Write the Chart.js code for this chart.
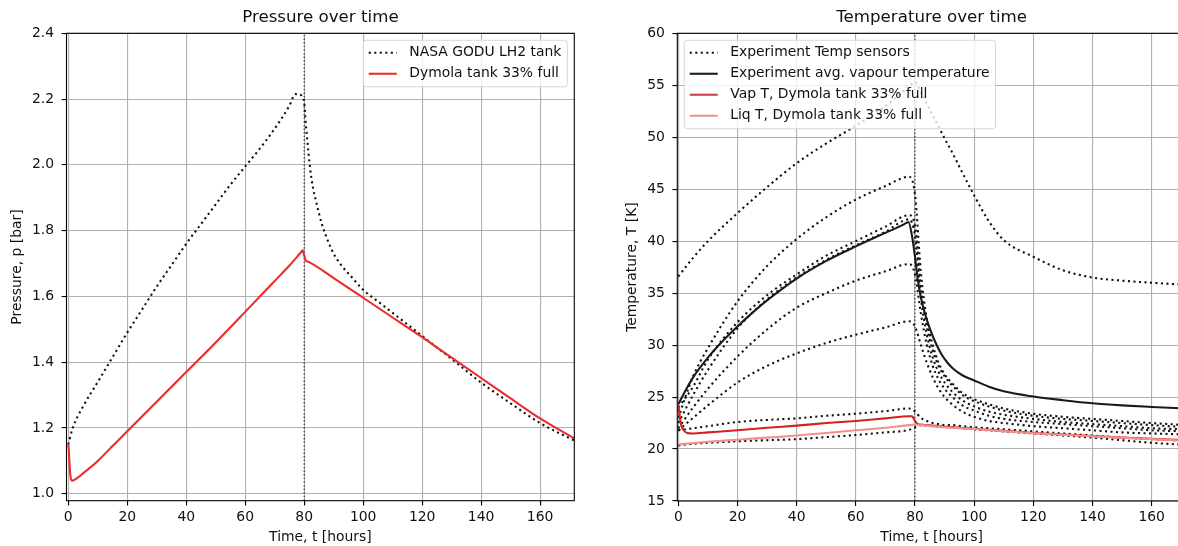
<!DOCTYPE html>
<html><head><meta charset="utf-8">
<script src="https://cdn.jsdelivr.net/npm/chart.js@4.4.0/dist/chart.umd.min.js"></script>
<style>
html,body{margin:0;padding:0;background:#fff;overflow:hidden;width:1178px;height:546px;position:relative;}
#c1{position:absolute;left:0;top:0;}
#c2{position:absolute;left:590px;top:0;}
</style></head><body>
<canvas id="c1" width="590" height="546" style="width:590px;height:546px"></canvas>
<canvas id="c2" width="620" height="546" style="width:620px;height:546px"></canvas>
<script>
// ---------- tick labels ----------
const timeTicks = [0, 20, 40, 60, 80, 100, 120, 140, 160];
const pressureTicks = [1.0, 1.2, 1.4, 1.6, 1.8, 2.0, 2.2, 2.4];
const tempTicks = [15, 20, 25, 30, 35, 40, 45, 50, 55, 60];
const markerTime = 80;

// ---------- pressure chart ----------
const nasaTime = [0, 1.5, 5, 10, 15, 20, 25, 30, 35, 40, 45, 50, 55, 60, 65, 70, 75, 77, 78, 79.5, 80, 80.5, 81, 82, 83, 84, 86, 88, 90, 93, 96, 100, 105, 110, 120, 130, 140, 150, 160, 171.6];
const nasaPressure = [1.15, 1.20, 1.265, 1.34, 1.415, 1.49, 1.56, 1.63, 1.695, 1.76, 1.82, 1.88, 1.94, 1.995, 2.05, 2.11, 2.18, 2.215, 2.215, 2.205, 2.19, 2.13, 2.08, 1.99, 1.93, 1.89, 1.82, 1.77, 1.73, 1.69, 1.66, 1.62, 1.585, 1.55, 1.48, 1.41, 1.338, 1.275, 1.215, 1.162];
const dymTime = [0, 0.2, 0.5, 0.9, 1.3, 3, 5, 10, 15, 20, 30, 40, 50, 60, 70, 75, 79, 79.5, 80, 80.5, 81.5, 90, 100, 110, 120, 130, 140, 150, 160, 171.6];
const dymPressure = [1.15, 1.13, 1.08, 1.045, 1.04, 1.048, 1.062, 1.10, 1.145, 1.19, 1.28, 1.37, 1.46, 1.553, 1.647, 1.694, 1.735, 1.74, 1.725, 1.71, 1.705, 1.656, 1.596, 1.536, 1.476, 1.414, 1.352, 1.29, 1.229, 1.168];

// ---------- temperature chart ----------
const sensorTime = [0, 5, 10, 20, 30, 40, 50, 60, 70, 78, 80, 82, 84, 86, 88, 90, 93, 96, 100, 105, 110, 120, 130, 140, 150, 160, 171.6];
const sensorA = [36.6, 38.4, 40.0, 42.7, 45.2, 47.5, 49.4, 51.1, 53.0, 54.9, 55.3, 54.3, 53.2, 52.1, 51.0, 49.9, 48.3, 46.6, 44.4, 41.9, 40.1, 38.5, 37.2, 36.5, 36.2, 36.0, 35.8];
const sensorB = [23.0, 27.0, 29.7, 34.2, 37.6, 40.2, 42.3, 44.0, 45.3, 46.2, 44.5, 37.0, 32.5, 30.0, 28.3, 27.2, 26.2, 25.4, 24.8, 24.3, 23.9, 23.4, 23.1, 22.9, 22.7, 22.5, 22.3];
const sensorC = [24.0, 26.0, 28.6, 32.2, 34.8, 36.8, 38.6, 40.0, 41.4, 42.5, 41.5, 35.5, 31.8, 29.5, 28.0, 27.0, 26.0, 25.2, 24.6, 24.1, 23.7, 23.2, 22.9, 22.7, 22.5, 22.3, 22.1];
const sensorD = [22.5, 25.2, 27.6, 31.6, 34.4, 36.5, 38.2, 39.6, 40.9, 42.1, 40.5, 34.5, 31.0, 28.8, 27.4, 26.4, 25.4, 24.7, 24.1, 23.6, 23.3, 22.9, 22.6, 22.4, 22.2, 22.0, 21.9];
const sensorE = [22.0, 24.0, 25.8, 28.9, 31.5, 33.6, 35.0, 36.2, 37.1, 37.8, 36.8, 33.0, 30.0, 28.0, 26.7, 25.8, 24.9, 24.2, 23.7, 23.2, 22.9, 22.6, 22.4, 22.2, 22.0, 21.8, 21.7];
const sensorF = [21.8, 23.0, 24.2, 26.4, 28.0, 29.2, 30.2, 31.0, 31.7, 32.3, 31.8, 30.0, 28.3, 26.9, 25.8, 25.0, 24.2, 23.6, 23.1, 22.7, 22.5, 22.2, 22.0, 21.8, 21.6, 21.5, 21.4];
const sensorG = [21.8, 22.0, 22.2, 22.6, 22.8, 22.95, 23.2, 23.4, 23.65, 23.9, 23.6, 23.0, 22.7, 22.5, 22.4, 22.3, 22.3, 22.2, 22.1, 22.0, 21.9, 21.7, 21.5, 21.3, 21.1, 20.95, 20.8];
const sensorH = [20.35, 20.5, 20.6, 20.75, 20.85, 20.95, 21.15, 21.35, 21.6, 21.85, 22.1, 22.3, 22.3, 22.2, 22.2, 22.1, 22.1, 22.0, 21.9, 21.8, 21.7, 21.5, 21.3, 21.1, 20.85, 20.6, 20.4];

const avgTime = [0, 2, 5, 10, 15, 20, 25, 30, 40, 50, 60, 70, 75, 77.3, 77.8, 79, 80, 81, 82, 83, 85, 87, 89, 91, 93, 96, 100, 105, 110, 120, 130, 140, 150, 160, 171.6];
const avgVapour = [24.3, 25.4, 26.9, 28.8, 30.4, 31.8, 33.1, 34.3, 36.4, 38.1, 39.5, 40.8, 41.45, 41.78, 41.85, 40.5, 38.5, 36.2, 34.6, 33.4, 31.6, 30.2, 29.1, 28.3, 27.7, 27.1, 26.6, 26.0, 25.55, 25.05, 24.7, 24.4, 24.2, 24.05, 23.9];

const vapTime = [0, 0.3, 0.7, 1.2, 2, 3, 5, 10, 20, 30, 40, 50, 60, 70, 78, 79, 80, 81, 82, 90, 100, 110, 120, 130, 140, 150, 160, 171.6];
const vapTemp = [24.2, 23.6, 22.7, 22.1, 21.75, 21.55, 21.5, 21.6, 21.8, 22.05, 22.25, 22.5, 22.7, 22.95, 23.15, 23.15, 22.7, 22.4, 22.35, 22.15, 21.95, 21.75, 21.55, 21.4, 21.25, 21.1, 20.98, 20.85];
const liqTime = [0, 10, 20, 30, 40, 50, 60, 70, 78, 80, 82, 90, 100, 120, 140, 160, 171.6];
const liqTemp = [20.45, 20.7, 20.9, 21.1, 21.3, 21.55, 21.8, 22.05, 22.3, 22.35, 22.3, 22.1, 21.92, 21.52, 21.22, 20.95, 20.8];

// ---------- helpers ----------
const FONT = 'DejaVu Sans';
const pts = (t, v) => t.map((x, i) => ({x: x, y: v[i]}));
const LW = 2.08;
const dottedStyle = {borderColor: '#111', borderWidth: LW, borderDash: [LW, 3.43], pointRadius: 0, fill: false, cubicInterpolationMode: 'monotone', borderCapStyle: 'butt'};
const solidStyle = c => ({borderColor: c, borderWidth: LW, pointRadius: 0, fill: false, cubicInterpolationMode: 'monotone'});
const vline = (ymin, ymax) => ({data: [{x: markerTime, y: ymin}, {x: markerTime, y: ymax}], borderColor: '#333', borderWidth: 1.2, borderDash: [1.4, 2.2], pointRadius: 0, fill: false});

function xScale(height, minV, maxV) {
  return {
    type: 'linear', position: 'bottom', min: minV, max: maxV,
    afterBuildTicks: s => { s.ticks = timeTicks.map(v => ({value: v})); },
    afterFit: s => { s.height = height; },
    grid: {color: '#b0b0b0', lineWidth: 1.1, drawTicks: true, tickColor: '#000', tickLength: 4.9, tickWidth: 1.1},
    border: {display: false},
    ticks: {color: '#111', font: {family: FONT, size: 13.9}, padding: 3, maxRotation: 0, autoSkip: false, callback: v => String(v)},
    title: {display: true, text: 'Time, t [hours]', color: '#111', font: {family: FONT, size: 13.9}, padding: {top: 0, bottom: 0}}
  };
}
function yScale(width, minV, maxV, tickArr, fmt, label, titlePad) {
  return {
    type: 'linear', position: 'left', min: minV, max: maxV,
    afterBuildTicks: s => { s.ticks = tickArr.map(v => ({value: v})); },
    afterFit: s => { s.width = width; },
    grid: {color: '#b0b0b0', lineWidth: 1.1, drawTicks: true, tickColor: '#000', tickLength: 4.9, tickWidth: 1.1},
    border: {display: false},
    ticks: {color: '#111', font: {family: FONT, size: 13.9}, padding: 7.5, autoSkip: false, callback: fmt},
    title: {display: true, text: label, color: '#111', font: {family: FONT, size: 13.9}, padding: {top: titlePad, bottom: 0}}
  };
}

const deco = {
  id: 'deco',
  afterDraw(chart, args, o) {
    const ctx = chart.ctx, a = chart.chartArea;
    ctx.save();
    ctx.strokeStyle = '#000'; ctx.lineWidth = 1.1;
    ctx.strokeRect(a.left, a.top, a.right - a.left, a.bottom - a.top);
    ctx.fillStyle = '#111';
    ctx.font = '16.67px "' + FONT + '"';
    ctx.textAlign = 'center'; ctx.textBaseline = 'middle';
    ctx.fillText(o.title, (a.left + a.right) / 2, 18);
    // legend
    const items = o.items;
    ctx.font = '13.9px "' + FONT + '"';
    let tw = 0;
    items.forEach(it => { tw = Math.max(tw, ctx.measureText(it.label).width); });
    const w = 46 + tw + 6;
    const h = 11 + items.length * 14.5 + (items.length - 1) * 6.5;
    const top = a.top + 6.95;
    const left = o.align === 'right' ? a.right - 6.95 - w : a.left + 6.95;
    const r = 3;
    ctx.beginPath();
    ctx.moveTo(left + r, top);
    ctx.arcTo(left + w, top, left + w, top + h, r);
    ctx.arcTo(left + w, top + h, left, top + h, r);
    ctx.arcTo(left, top + h, left, top, r);
    ctx.arcTo(left, top, left + w, top, r);
    ctx.closePath();
    ctx.fillStyle = 'rgba(255,255,255,0.8)';
    ctx.fill();
    ctx.strokeStyle = '#d6d6d6'; ctx.lineWidth = 1;
    ctx.stroke();
    items.forEach((it, i) => {
      const cy = top + 12.5 + i * 21;
      ctx.beginPath();
      ctx.setLineDash(it.dash || []);
      ctx.strokeStyle = it.color; ctx.lineWidth = LW;
      ctx.moveTo(left + 5.5, cy); ctx.lineTo(left + 33.5, cy);
      ctx.stroke();
      ctx.setLineDash([]);
      ctx.fillStyle = '#111'; ctx.textAlign = 'left'; ctx.textBaseline = 'middle';
      ctx.fillText(it.label, left + 46, cy);
    });
    ctx.restore();
  }
};

const RED = '#ee2a2a', VAP = '#d42020', LIQ = '#f29090';

// ---------- Pressure chart ----------
new Chart(document.getElementById('c1'), {
  type: 'line',
  data: {datasets: [
    Object.assign({label: 'Dymola tank 33% full', data: pts(dymTime, dymPressure)}, solidStyle(RED)),
    Object.assign({label: 'NASA GODU LH2 tank', data: pts(nasaTime, nasaPressure)}, dottedStyle),
    vline(0.979, 2.4)
  ]},
  options: {
    responsive: false, animation: false, devicePixelRatio: 1,
    layout: {padding: {left: 0, top: 33.3, right: 15.7, bottom: 0}},
    plugins: {legend: {display: false}, tooltip: {enabled: false},
      deco: {title: 'Pressure over time', align: 'right', items: [
        {label: 'NASA GODU LH2 tank', color: '#111', dash: [LW, 3.43]},
        {label: 'Dymola tank 33% full', color: RED}
      ]}},
    scales: {
      x: xScale(45.3, -0.6, 171.6),
      y: yScale(66.5, 0.979, 2.4, pressureTicks, v => Number(v).toFixed(1), 'Pressure, p [bar]', 9)
    }
  },
  plugins: [deco]
});

// ---------- Temperature chart ----------
const sensors = [sensorA, sensorB, sensorC, sensorD, sensorE, sensorF, sensorG, sensorH];
const tempSets = [
  Object.assign({label: 'Liq T, Dymola tank 33% full', data: pts(liqTime, liqTemp)}, solidStyle(LIQ)),
  Object.assign({label: 'Vap T, Dymola tank 33% full', data: pts(vapTime, vapTemp)}, solidStyle(VAP)),
  Object.assign({label: 'Experiment avg. vapour temperature', data: pts(avgTime, avgVapour)}, solidStyle('#1a1a1a'))
];
sensors.forEach((s, i) => tempSets.push(Object.assign({label: 'Experiment Temp sensors', data: pts(sensorTime, s)}, dottedStyle)));
tempSets.push(vline(15, 60));

new Chart(document.getElementById('c2'), {
  type: 'line',
  data: {datasets: tempSets},
  options: {
    responsive: false, animation: false, devicePixelRatio: 1,
    layout: {padding: {left: 0, top: 33.3, right: 24, bottom: 0}},
    plugins: {legend: {display: false}, tooltip: {enabled: false},
      deco: {title: 'Temperature over time', align: 'left', items: [
        {label: 'Experiment Temp sensors', color: '#111', dash: [LW, 3.43]},
        {label: 'Experiment avg. vapour temperature', color: '#1a1a1a'},
        {label: 'Vap T, Dymola tank 33% full', color: '#c84444'},
        {label: 'Liq T, Dymola tank 33% full', color: LIQ}
      ]}},
    scales: {
      x: xScale(45, -0.34, 171.6),
      y: yScale(87.3, 15, 60, tempTicks, v => String(v), 'Temperature, T [K]', 33.7)
    }
  },
  plugins: [deco]
});
</script>
</body></html>
